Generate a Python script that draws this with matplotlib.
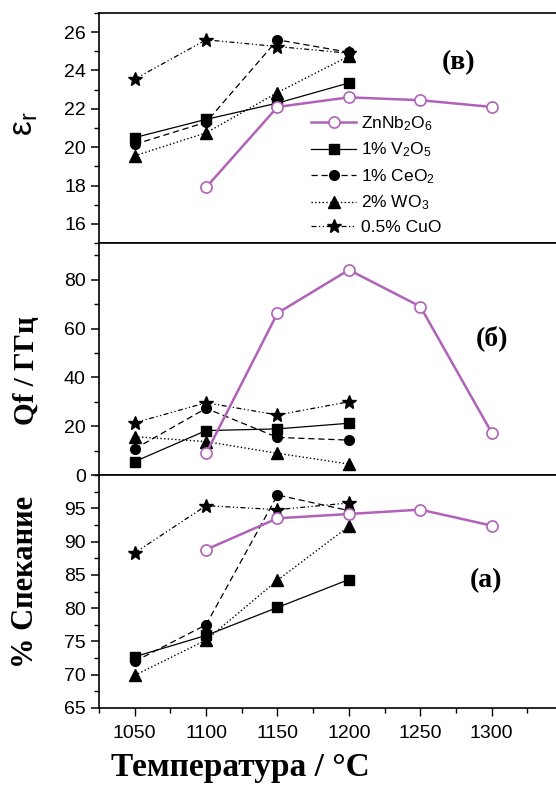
import matplotlib
matplotlib.use("Agg")
import matplotlib.pyplot as plt
from matplotlib.ticker import MultipleLocator, FixedLocator

# данные
temp = [1050, 1100, 1150, 1200]
temp_zn = [1100, 1150, 1200, 1250, 1300]

er_zn = [17.9, 22.1, 22.6, 22.45, 22.1]
er_v = [20.5, 21.45, 22.3, 23.35]
er_ce = [20.15, 21.3, 25.6, 24.95]
er_w = [19.55, 20.75, 22.85, 24.75]
er_cu = [23.55, 25.6, 25.25, 24.9]

qf_zn = [8.9, 66.3, 84.0, 69.0, 17.3]
qf_v = [5.5, 18.2, 18.9, 21.2]
qf_ce = [10.7, 27.3, 15.4, 14.3]
qf_w = [15.7, 13.7, 8.9, 4.5]
qf_cu = [21.4, 29.6, 24.6, 30.0]

sp_zn = [88.8, 93.5, 94.15, 94.8, 92.4]
sp_v = [72.7, 75.9, 80.1, 84.3]
sp_ce = [72.0, 77.5, 97.0, 94.65]
sp_w = [69.9, 75.2, 84.2, 92.3]
sp_cu = [88.3, 95.4, 94.8, 95.8]

labels = ['ZnNb$_2$O$_6$', '1% V$_2$O$_5$', '1% CeO$_2$', '2% WO$_3$', '0.5% CuO']

plt.rcParams['font.family'] = ['Liberation Sans', 'DejaVu Sans']
plt.rcParams['mathtext.fontset'] = 'custom'
plt.rcParams['mathtext.rm'] = 'Liberation Sans'
plt.rcParams['mathtext.it'] = 'Liberation Sans'

fig = plt.figure(figsize=(5.56, 7.87), dpi=100)
left, right = 0.178, 1.0
ax1 = fig.add_axes([left, 0.6912, right - left, 0.2923])
ax2 = fig.add_axes([left, 0.3964, right - left, 0.2948])
ax3 = fig.add_axes([left, 0.1004, right - left, 0.2960])

purple = '#b062b8'
serif = 'Liberation Serif'


def draw(ax, zn, v, ce, w, cu):
    ax.plot(temp_zn, zn, '-o', color=purple, lw=1.8, ms=8, mfc='white',
            mec=purple, mew=1.2, label=labels[0], zorder=5)
    ax.plot(temp, v, '-s', color='black', lw=0.9, ms=7, label=labels[1])
    ax.plot(temp, ce, '--o', color='black', lw=0.9, ms=7, dashes=(5, 3), label=labels[2])
    ax.plot(temp, w, ':^', color='black', lw=1.0, ms=8, label=labels[3])
    ax.plot(temp, cu, color='black', lw=0.9, marker='*', ms=10,
            dashes=(4, 2, 1, 2, 1, 2), label=labels[4])
    ax.set_xlim(1025, 1345)
    ax.spines['right'].set_visible(False)
    for s in ax.spines.values():
        s.set_linewidth(1.2)
    ax.xaxis.set_major_locator(MultipleLocator(50))
    ax.xaxis.set_minor_locator(MultipleLocator(25))
    ax.tick_params(axis='y', which='both', direction='out', labelsize=14)
    ax.tick_params(axis='y', which='major', length=6, width=1.1)
    ax.tick_params(axis='y', which='minor', length=3.5, width=1.0)
    ax.tick_params(axis='x', which='both', direction='out', top=False, width=1.0)
    ax.tick_params(axis='x', which='major', length=6)
    ax.tick_params(axis='x', which='minor', length=3.5)


draw(ax1, er_zn, er_v, er_ce, er_w, er_cu)
draw(ax2, qf_zn, qf_v, qf_ce, qf_w, qf_cu)
draw(ax3, sp_zn, sp_v, sp_ce, sp_w, sp_cu)

ax1.set_ylim(15, 27)
ax1.yaxis.set_major_locator(MultipleLocator(2))
ax1.yaxis.set_minor_locator(MultipleLocator(1))
ax1.tick_params(axis='x', labelbottom=False)

ax2.set_ylim(0, 95)
ax2.yaxis.set_major_locator(MultipleLocator(20))
ax2.yaxis.set_minor_locator(MultipleLocator(10))
ax2.tick_params(axis='x', labelbottom=False)

ax3.set_ylim(65, 100)
ax3.yaxis.set_major_locator(FixedLocator([65, 70, 75, 80, 85, 90, 95]))
ax3.yaxis.set_minor_locator(MultipleLocator(2.5))
ax3.tick_params(axis='x', labelsize=14, pad=6)

ax1.set_ylabel('ε$_r$', fontsize=24)
ax2.set_ylabel('Qf / ГГц', fontsize=21, family=serif, weight='bold')
ax3.set_ylabel('% Спекание', fontsize=22, family=serif, weight='bold')
ax3.set_xlabel('Температура / °C', fontsize=24, family=serif, weight='bold')
ax3.xaxis.set_label_coords(0.31, -0.19)
ax1.yaxis.set_label_coords(-0.13, 0.52)
ax2.yaxis.set_label_coords(-0.13, 0.45)
ax3.yaxis.set_label_coords(-0.13, 0.54)

ax1.text(1277, 24.4, '(в)', fontsize=20, family=serif, weight='bold', ha='center', va='center')
ax2.text(1300, 56, '(б)', fontsize=20, family=serif, weight='bold', ha='center', va='center')
ax3.text(1296, 84.2, '(а)', fontsize=20, family=serif, weight='bold', ha='center', va='center')

ax1.legend(loc='lower left', bbox_to_anchor=(0.43, -0.035), frameon=False,
           fontsize=12.5, handlelength=2.6, labelspacing=0.45, handletextpad=0.3)

fig.savefig('out.png', dpi=100)
